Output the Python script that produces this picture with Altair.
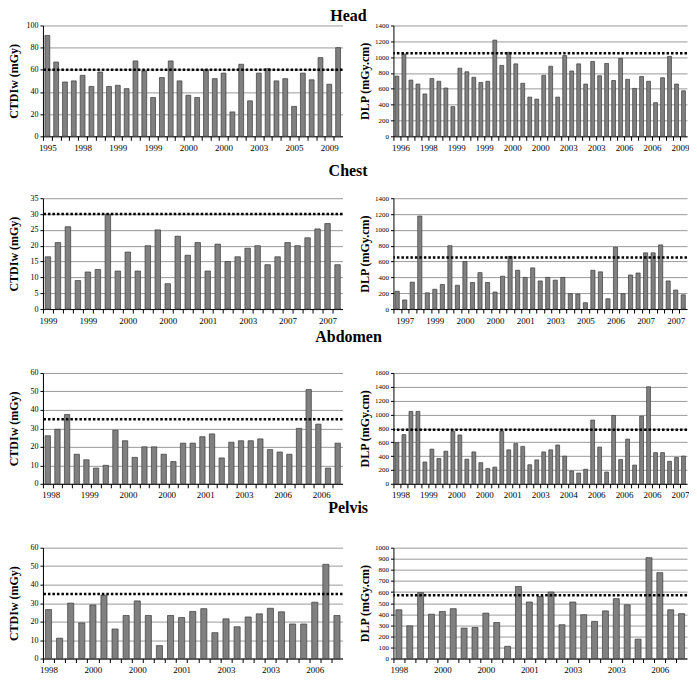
import altair as alt
import pandas as pd

FONT = "Liberation Serif"

# ---------------- data ----------------
head_ctdi = [91, 67, 49, 50, 55, 45, 58, 45, 46, 43, 68, 59, 35, 53, 68, 50, 37, 35, 60, 52,
             57, 22, 65, 32, 57, 61, 50, 52, 27, 57, 51, 71, 47, 80]
head_ctdi_years = ["1995", "1998", "1999", "1999", "2000", "2000", "2003", "2005", "2009"]

head_dlp = [760, 1040, 710, 660, 535, 730, 695, 610, 375, 860, 815, 745, 680, 695, 1215, 895,
            1060, 915, 670, 495, 470, 770, 885, 495, 1020, 825, 915, 660, 945, 765, 920, 705,
            985, 720, 605, 755, 695, 425, 740, 1010, 660, 575]
head_dlp_years = ["1996", "1998", "1999", "1999", "2000", "2000", "2003", "2003", "2006", "2006", "2009"]

chest_ctdi = [16.5, 21, 26, 9, 11.7, 12.5, 30, 12, 18, 12, 20, 25, 8, 23, 17, 21, 12, 20.5, 15,
              16.5, 19.2, 20, 14, 16.5, 21, 20, 22.5, 25.3, 27, 14]
chest_ctdi_years = ["1999", "1999", "2000", "2000", "2001", "2003", "2007", "2007"]

chest_dlp = [225, 115, 340, 1175, 205, 250, 310, 800, 300, 600, 335, 460, 335, 215, 415, 665,
             490, 400, 520, 355, 400, 365, 400, 195, 190, 80, 490, 470, 130, 780, 195, 430, 455,
             710, 710, 810, 355, 240, 180]
chest_dlp_years = ["1997", "1999", "2000", "2000", "2001", "2003", "2005", "2006", "2007", "2007"]

abd_ctdi = [26, 29.5, 37.5, 16, 13, 8.5, 10, 29, 23.3, 14.3, 20, 20, 16, 12, 22, 22, 25.5, 27,
            14, 22.5, 23.3, 23.3, 24.3, 18.5, 17.2, 16, 30, 51, 32.3, 8.5, 22]
abd_ctdi_years = ["1998", "1999", "2000", "2000", "2001", "2003", "2006", "2006"]

abd_dlp = [595, 710, 1045, 1045, 315, 500, 365, 470, 760, 705, 355, 460, 305, 220, 240, 760,
           490, 580, 540, 275, 345, 460, 490, 560, 400, 185, 155, 210, 920, 530, 170, 985, 350,
           645, 270, 975, 1400, 450, 450, 325, 380, 400]
abd_dlp_years = ["1998", "1999", "2000", "2000", "2001", "2003", "2004", "2006", "2006", "2006", "2007"]

pel_ctdi = [26.5, 11, 30, 19.3, 29, 34.3, 16, 23.3, 31.2, 23.3, 7, 23.3, 22.2, 25.5, 27, 14,
            21.5, 17.2, 22.5, 24.2, 27.2, 25.3, 18.7, 18.7, 30.5, 51, 23.3]
pel_ctdi_years = ["1998", "2000", "2000", "2001", "2003", "2003", "2006"]

pel_dlp = [440, 295, 595, 400, 425, 450, 275, 280, 410, 325, 110, 650, 510, 560, 600, 305, 510,
           395, 335, 430, 540, 485, 175, 910, 775, 440, 405]
pel_dlp_years = ["1998", "2000", "2000", "2001", "2003", "2003", "2006"]

reference_levels = {"head": (60, 1050), "chest": (30, 650), "abdomen": (35, 780), "pelvis": (35, 570)}

LW, RW, H = 300, 294, 111


def panel(values, labels, start, shift, ref, ymax, ystep, ytitle, width, ylabel_size):
    n = len(values)
    df = pd.DataFrame({"i": list(range(n)), "v": values})
    step = width / n
    arr = "[" + ",".join("'%s'" % l for l in labels) + "]"
    expr = ("(datum.value >= %d && (datum.value - %d) %% 4 == 0) ? %s[(datum.value - %d) / 4] : ''"
            % (start, start, arr, start))
    x = alt.X("i:O",
              scale=alt.Scale(paddingInner=0.45, paddingOuter=0.225),
              axis=alt.Axis(title=None, values=list(range(n)), labelExpr=expr, labelAngle=0,
                            labelOverlap=False, tickOffset=-step / 2,
                            labelOffset=step / 2 + shift * step, labelFontSize=9,
                            labelPadding=3, tickSize=4, grid=False, domain=True, ticks=True,
                            labelBound=False, labelFlush=False))
    yscale = alt.Scale(domain=[0, ymax], nice=False)
    y = alt.Y("v:Q", scale=yscale,
              axis=alt.Axis(title=ytitle, values=list(range(0, ymax + 1, ystep)), grid=True,
                            domain=True, ticks=True, format="d", labelOverlap=False,
                            labelFlush=False,
                            labelFontSize=ylabel_size, tickSize=3, titleFontSize=12,
                            titleFontWeight="bold", titlePadding=4, labelPadding=2,
                            minExtent=18, maxExtent=18))
    bars = alt.Chart(df).mark_bar(color="#808080", stroke="#3a3a3a", strokeWidth=0.7).encode(x=x, y=y)
    rule = alt.Chart(pd.DataFrame({"v": [ref]})).mark_rule(
        color="black", strokeWidth=2.5, strokeDash=[2.5, 2]).encode(y=y)
    return alt.layer(bars, rule).properties(width=width, height=H)


def row(title, offset, left, right):
    return alt.hconcat(left, right, spacing=14,
                       title=alt.Title(title, fontSize=16, font=FONT, fontWeight="bold",
                                       anchor="middle", offset=offset, color="black"))


r1 = row("Head", -3,
         panel(head_ctdi, head_ctdi_years, 0, 0, reference_levels["head"][0], 100, 20, "CTDIw (mGy)", LW, 8),
         panel(head_dlp, head_dlp_years, 0, 0.5, reference_levels["head"][1], 1400, 200, "DLP (mGy.cm)", RW, 7))
r2 = row("Chest", 15,
         panel(chest_ctdi, chest_ctdi_years, 0, 0, reference_levels["chest"][0], 35, 5, "CTDIw (mGy)", LW, 8),
         panel(chest_dlp, chest_dlp_years, 1, 0, reference_levels["chest"][1], 1400, 200, "DLP (mGy.cm)", RW, 7))
r3 = row("Abdomen", 24,
         panel(abd_ctdi, abd_ctdi_years, 0, 0.3, reference_levels["abdomen"][0], 60, 10, "CTDIw (mGy)", LW, 8),
         panel(abd_dlp, abd_dlp_years, 0, 0.5, reference_levels["abdomen"][1], 1600, 200, "DLP (mGy.cm)", RW, 7))
r4 = row("Pelvis", 28,
         panel(pel_ctdi, pel_ctdi_years, 0, 0, reference_levels["pelvis"][0], 60, 10, "CTDIw (mGy)", LW, 8),
         panel(pel_dlp, pel_dlp_years, 0, 0, reference_levels["pelvis"][1], 1000, 100, "DLP (mGy.cm)", RW, 7))

top = alt.vconcat(r1, r2, spacing=11)
bottom = alt.vconcat(r3, r4, spacing=0)

chart = alt.vconcat(top, bottom, spacing=4).properties(
    padding=0, background="white"
).configure_axis(
    labelFont=FONT, titleFont=FONT, labelColor="black", titleColor="black",
    domainColor="black", tickColor="black", gridColor="#9a9a9a", domainWidth=1, gridWidth=1
).configure_view(stroke=None)

chart.save("out.html", embed_options={"renderer": "svg", "actions": False})
